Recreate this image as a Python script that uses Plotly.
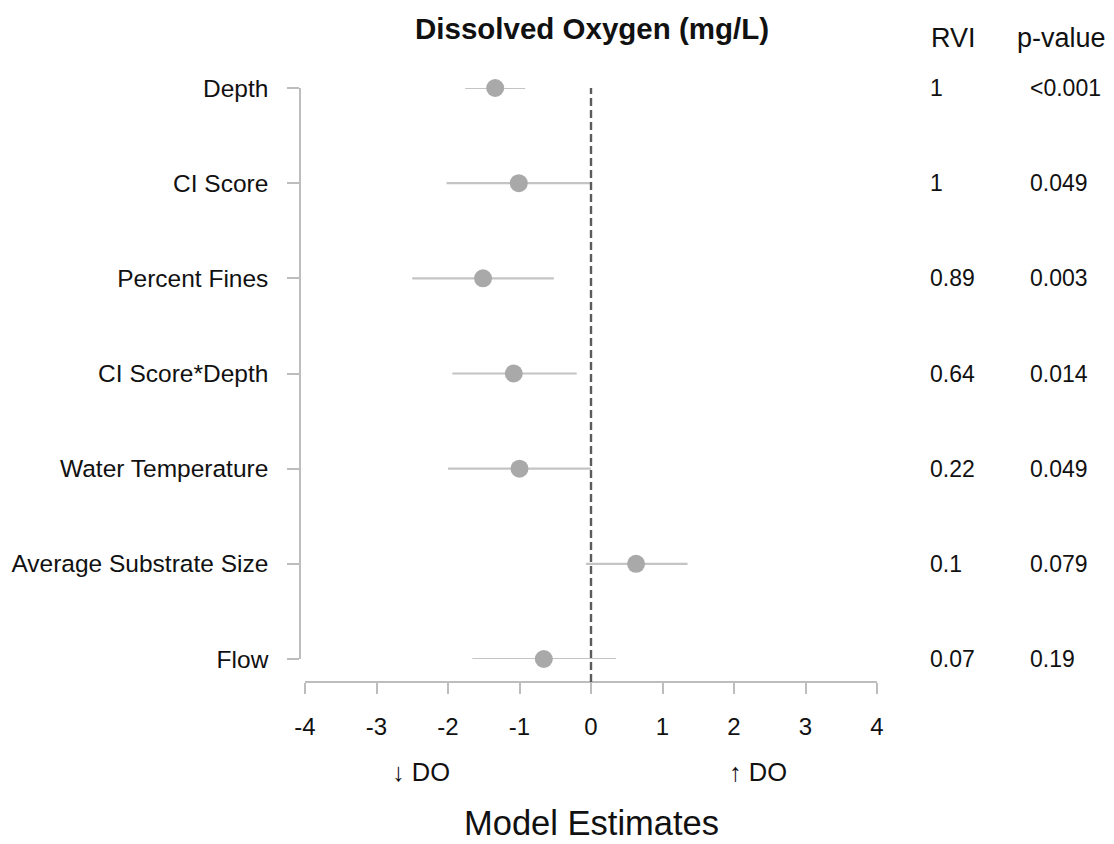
import plotly.graph_objects as go

# Model-averaged estimates for dissolved oxygen (mg/L)
predictors = ["Depth", "CI Score", "Percent Fines", "CI Score*Depth",
              "Water Temperature", "Average Substrate Size", "Flow"]
estimate = [-1.34, -1.01, -1.51, -1.08, -1.00, 0.63, -0.66]
ci_low = [-1.76, -2.02, -2.50, -1.94, -2.00, -0.07, -1.66]
ci_high = [-0.92, 0.00, -0.52, -0.20, 0.00, 1.35, 0.35]
rvi = ["1", "1", "0.89", "0.64", "0.22", "0.1", "0.07"]
p_value = ["<0.001", "0.049", "0.003", "0.014", "0.049", "0.079", "0.19"]
x_ticks = [-4, -3, -2, -1, 0, 1, 2, 3, 4]

FONT = "Liberation Sans, Arial, sans-serif"
TXT = "#111111"
AXIS_GRAY = "#bdbdbd"

rows = list(range(len(predictors)))

fig = go.Figure()
fig.add_trace(go.Scatter(
    x=estimate,
    y=rows,
    mode="markers",
    marker=dict(size=18, color="#a9a9a9", line=dict(width=0)),
    error_x=dict(
        type="data",
        symmetric=False,
        array=[h - e for h, e in zip(ci_high, estimate)],
        arrayminus=[e - l for e, l in zip(estimate, ci_low)],
        color="#c4c4c4",
        thickness=2.2,
        width=0,
    ),
    cliponaxis=False,
    showlegend=False,
    hoverinfo="skip",
))

# Reference line at zero
fig.add_shape(type="line", xref="x", yref="paper", x0=0, x1=0, y0=0, y1=1,
              line=dict(color="#5c5c5c", width=2.4, dash="8px,4px"))

W, H = 1114, 844
L, R, T, B = 300, 237, 88, 162
pw = W - L - R
ph = H - T - B


def px(xp):
    return (xp - L) / pw


def py(yp):
    return (H - B - yp) / ph


annotations = []
# RVI and p-value columns
for i in rows:
    annotations.append(dict(x=px(928), y=i, xref="paper", yref="y", text=rvi[i],
                            showarrow=False, xanchor="left", yanchor="middle",
                            font=dict(family=FONT, size=23, color=TXT)))
    annotations.append(dict(x=px(1028), y=i, xref="paper", yref="y", text=p_value[i],
                            showarrow=False, xanchor="left", yanchor="middle",
                            font=dict(family=FONT, size=23, color=TXT)))

header = [("Dissolved Oxygen (mg/L)", 592, 28, 29.5, True),
          ("RVI", 953, 38, 27, False),
          ("p-value", 1061, 38, 27, False),
          ("↓ DO", 421, 772, 25.5, False),
          ("↑ DO", 758, 772, 25.5, False),
          ("Model Estimates", 591, 823, 34.5, False)]
for text, xp, yp, size, bold in header:
    annotations.append(dict(
        x=px(xp), y=py(yp), xref="paper", yref="paper",
        text=f"<b>{text}</b>" if bold else text,
        showarrow=False, xanchor="center", yanchor="middle",
        font=dict(family=FONT, size=size, color=TXT)))

fig.update_layout(
    width=W, height=H,
    margin=dict(l=L, r=R, t=T, b=B, pad=0),
    paper_bgcolor="white",
    plot_bgcolor="white",
    annotations=annotations,
    xaxis=dict(
        domain=[5 / pw, 1],
        range=[-4, 4],
        tickvals=x_ticks,
        ticktext=[str(v) for v in x_ticks],
        showgrid=False, zeroline=False,
        showline=True, linecolor=AXIS_GRAY, linewidth=1.5,
        ticks="outside", ticklen=11, tickwidth=1.5, tickcolor=AXIS_GRAY,
        tickfont=dict(family=FONT, size=24, color=TXT),
        ticklabelstandoff=12,
        anchor="free", position=0,
        automargin=False,
    ),
    yaxis=dict(
        domain=[py(659), 1],
        range=[6, 0],
        tickvals=rows,
        ticktext=predictors,
        showgrid=False, zeroline=False,
        showline=True, linecolor=AXIS_GRAY, linewidth=1.5,
        ticks="outside", ticklen=12, tickwidth=1.5, tickcolor=AXIS_GRAY,
        tickfont=dict(family=FONT, size=24.5, color=TXT),
        ticklabelstandoff=14,
        anchor="free", position=0,
        automargin=False,
    ),
)

fig.write_html("out.html")
